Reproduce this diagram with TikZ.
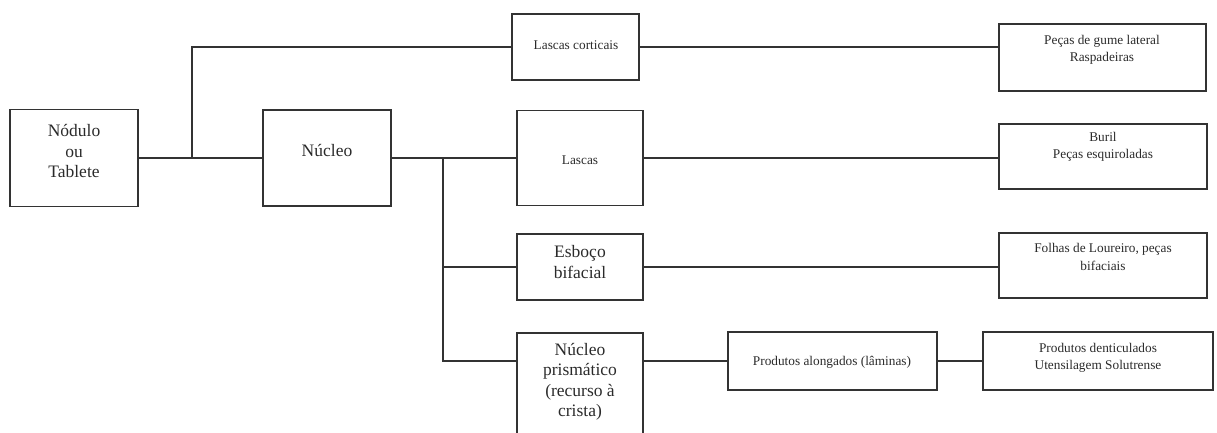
\documentclass[tikz,border=0pt]{standalone}
\usepackage{fontspec}
\setmainfont{Liberation Serif}
\definecolor{linec}{HTML}{333333}
\definecolor{textc}{HTML}{2A2A2A}
\begin{document}
\begin{tikzpicture}[x=1pt,y=-1pt,
  box/.style={draw=linec, line width=1.4pt, inner sep=0pt},
  big/.style={font=\fontsize{17.5}{20.5}\selectfont, align=center, text=textc, inner sep=0pt},
  small/.style={font=\fontsize{13.3}{17.5}\selectfont, align=center, text=textc, inner sep=0pt},
  conn/.style={draw=linec, line width=1.2pt}]
\useasboundingbox (0,0) rectangle (1217,432);
% boxes
\node[box, minimum width=128pt, minimum height=97pt] (nod) at (74,158) {};
\node[box, minimum width=128pt, minimum height=96pt] (nuc) at (327,158) {};
\node[box, minimum width=127pt, minimum height=66pt] (lc) at (575.5,47) {};
\node[box, minimum width=126pt, minimum height=95pt] (las) at (580,158) {};
\node[box, minimum width=126pt, minimum height=66pt] (esb) at (580,267) {};
\node[box, minimum width=126pt, minimum height=117pt] (npr) at (580,391.5) {};
\node[box, minimum width=209pt, minimum height=58pt] (pal) at (832.5,361) {};
\node[box, minimum width=207pt, minimum height=67pt] (pec) at (1102.5,57.5) {};
\node[box, minimum width=208pt, minimum height=65pt] (bur) at (1103,156.5) {};
\node[box, minimum width=208pt, minimum height=65pt] (fol) at (1103,265.5) {};
\node[box, minimum width=230pt, minimum height=58pt] (pde) at (1098,361) {};
% texts
\node[big] (tnod) at (74,151) {Nódulo\\ou\\Tablete};
\node[big] (tnuc) at (327,150) {Núcleo};
\node[small] (tlc) at (576,45) {Lascas corticais};
\node[small] (tlas) at (580,160) {Lascas};
\node[big] (tesb) at (580,262) {Esboço\\bifacial};
\node[big] (tnpr) at (580,382) {Núcleo\\prismático\\(recurso à\\crista)};
\node[small] (tpal) at (832,362) {Produtos alongados (lâminas)};
\node[small] (tpde) at (1098,358) {Produtos denticulados\\Utensilagem Solutrense};
\node[small] (tpec) at (1102,50) {Peças de gume lateral\\Raspadeiras};
\node[small] (tbur) at (1103,147) {Buril\\Peças esquiroladas};
\node[small] (tfol) at (1103,257) {Folhas de Loureiro, peças\\bifaciais};
% connectors
\coordinate (j1) at (192,158);
\coordinate (j2) at (443,158);
\draw[conn] (nod.east) -- (nuc.west);
\draw[conn] (j1) |- (lc.west);
\draw[conn] (lc.east) -- (lc.east -| pec.west);
\draw[conn] (nuc.east) -- (las.west);
\draw[conn] (las.east) -- (las.east -| bur.west);
\draw[conn] (j2) |- (esb.west);
\draw[conn] (esb.east) -- (esb.east -| fol.west);
\draw[conn] (j2) |- (pal.west -| npr.west);
\draw[conn] (pal.west -| npr.east) -- (pal.west);
\draw[conn] (pal.east) -- (pde.west);
\end{tikzpicture}
\end{document}
